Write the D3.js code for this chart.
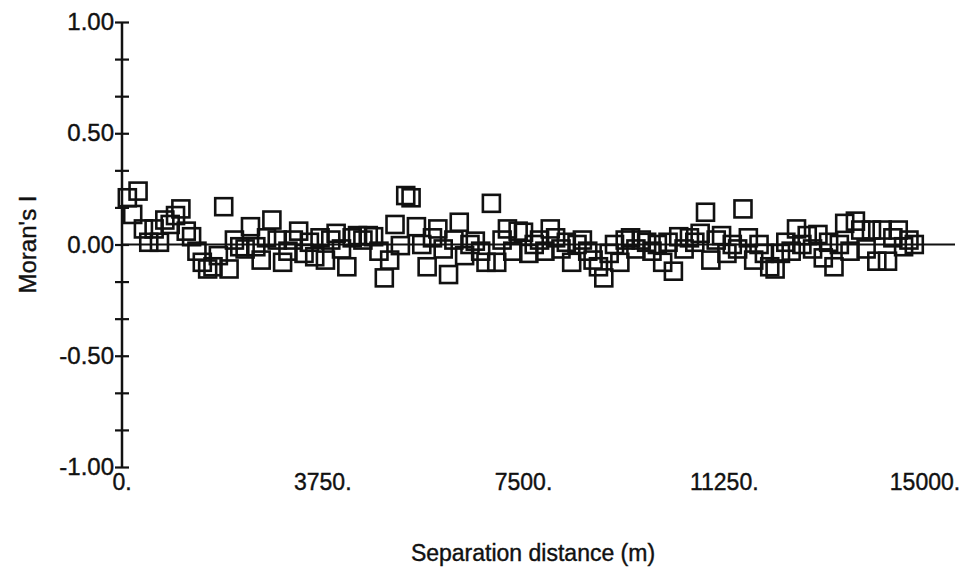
<!DOCTYPE html>
<html>
<head>
<meta charset="utf-8">
<script src="https://cdn.jsdelivr.net/npm/d3@7"></script>
<style>
  body { margin: 0; background: #fff; }
  svg { display: block; font-family: "Liberation Sans", Arial, sans-serif; }
  .axis path { display: none; }
  .axis line { stroke: #111; stroke-width: 2.2; }
  .axis text { font-size: 24px; fill: #111; stroke: #111; stroke-width: 0.4; }
  .lbl { fill: #111; stroke: #111; stroke-width: 0.4; }
</style>
</head>
<body>
<div id="chart"></div>
<script>
const W = 961, H = 573;

// distance classes (m), every 100 m
const distances = d3.range(1, 149).map(i => i * 100);

// Moran's I per distance class
const moransI = [
  0.21, 0.135, 0.24, 0.07, 0.01, 0.07, 0.01, 0.11, 0.09, 0.13,
  0.16, 0.06, 0.035, -0.03, -0.08, -0.11, -0.10, -0.05, 0.17, -0.11,
  0.02, -0.01, -0.02, 0.08, -0.01, -0.07, 0.03, 0.11, 0.02, -0.08,
  -0.03, 0.02, 0.06, -0.04, 0.01, -0.055, 0.03, -0.07, 0.02, 0.05,
  -0.02, -0.10, 0.03, 0.04, 0.02, 0.04, 0.035, -0.03, -0.15, -0.07,
  0.09, -0.005, 0.22, 0.21, 0.08, 0.0, -0.10, 0.03, 0.07, -0.02,
  -0.135, 0.02, 0.10, -0.05, 0.0, 0.015, -0.03, -0.08, 0.185, -0.08,
  0.02, 0.07, -0.03, 0.06, 0.055, -0.04, 0.0, 0.02, -0.03, 0.07,
  0.03, -0.02, 0.01, -0.08, 0.0, 0.02, -0.03, -0.07, -0.10, -0.15,
  -0.04, 0.0, -0.08, 0.02, 0.03, -0.02, 0.02, 0.01, -0.03, 0.0,
  -0.08, 0.01, -0.12, 0.035, -0.02, 0.03, 0.01, 0.05, 0.145, -0.07,
  0.02, 0.04, -0.04, 0.0, -0.02, 0.16, 0.03, -0.07, 0.0, -0.04,
  -0.10, -0.11, -0.04, 0.01, -0.03, 0.07, 0.0, 0.04, -0.02, 0.045,
  -0.06, 0.01, -0.10, 0.0, 0.095, -0.03, 0.105, 0.065, -0.02, 0.065,
  -0.075, 0.065, -0.075, 0.03, 0.065, -0.01, 0.02, 0.0
];

const xTicks = [0, 3750, 7500, 11250, 15000];
const yMajor = [-1, -0.5, 0, 0.5, 1];
const yTicks = d3.range(-6, 7).map(k => k / 6);

const x = d3.scaleLinear().domain([0, 15000]).range([122, 925]);
const y = d3.scaleLinear().domain([-1, 1]).range([467, 22]);

const svg = d3.select('#chart').append('svg')
  .attr('width', W)
  .attr('height', H);

// zero reference line
svg.append('line')
  .attr('x1', x(0)).attr('x2', 955)
  .attr('y1', y(0)).attr('y2', y(0))
  .attr('stroke', '#111')
  .attr('stroke-width', 2);

// y axis: vertical line + ticks crossing it
svg.append('line')
  .attr('x1', x(0)).attr('x2', x(0))
  .attr('y1', y(1)).attr('y2', y(-1))
  .attr('stroke', '#111')
  .attr('stroke-width', 2.5);

const yAxis = svg.append('g')
  .attr('class', 'axis')
  .attr('transform', `translate(${x(0)},0)`)
  .call(d3.axisLeft(y)
    .tickValues(yTicks)
    .tickSize(7)
    .tickPadding(1)
    .tickFormat(v => yMajor.some(m => Math.abs(m - v) < 1e-6) ? v.toFixed(2) : ''));
yAxis.selectAll('.tick line').attr('x1', 7);

// x tick labels
svg.append('g')
  .selectAll('text')
  .data(xTicks)
  .join('text')
  .attr('class', 'lbl')
  .attr('x', d => x(d))
  .attr('y', 490)
  .attr('text-anchor', 'middle')
  .attr('font-size', 23)
  .text(d => d + '.');

// hollow square markers
const s = 17;
svg.append('g')
  .selectAll('rect')
  .data(distances.map((d, i) => ({ d, v: moransI[i] })))
  .join('rect')
  .attr('x', p => x(p.d) - s / 2)
  .attr('y', p => y(p.v) - s / 2)
  .attr('width', s)
  .attr('height', s)
  .attr('fill', 'none')
  .attr('stroke', '#111')
  .attr('stroke-width', 2.6);

// axis titles
svg.append('text')
  .attr('class', 'lbl')
  .attr('x', 533)
  .attr('y', 561)
  .attr('text-anchor', 'middle')
  .attr('font-size', 23)
  .text('Separation distance (m)');

svg.append('text')
  .attr('class', 'lbl')
  .attr('transform', `translate(36,${y(0)}) rotate(-90)`)
  .attr('text-anchor', 'middle')
  .attr('font-size', 24)
  .text("Moran's I");
</script>
</body>
</html>
